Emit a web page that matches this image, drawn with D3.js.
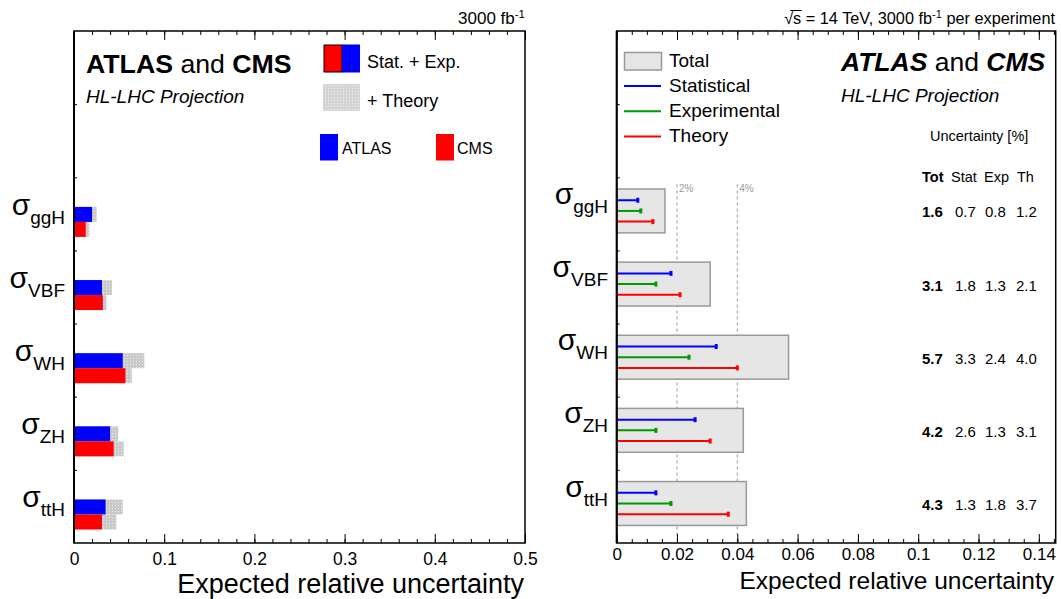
<!DOCTYPE html>
<html>
<head>
<meta charset="utf-8">
<script src="https://cdn.jsdelivr.net/npm/d3@7"></script>
<style>
  html, body { margin: 0; padding: 0; background: #fff; }
  svg { display: block; font-family: "Liberation Sans", Arial, sans-serif; }
</style>
</head>
<body>
<svg id="chart" width="1061" height="599"></svg>
<script>
// Production modes, listed top to bottom
const categories = ["ggH", "VBF", "WH", "ZH", "ttH"];

// Left panel: expected relative uncertainty per experiment
const atlasStatExp = [0.020, 0.031, 0.054, 0.040, 0.035];
const atlasTotal   = [0.025, 0.042, 0.078, 0.049, 0.054];
const cmsStatExp   = [0.013, 0.032, 0.057, 0.044, 0.031];
const cmsTotal     = [0.017, 0.036, 0.064, 0.055, 0.047];

// Right panel: combined uncertainty breakdown, in percent
const totUnc  = [1.6, 3.1, 5.7, 4.2, 4.3];
const statUnc = [0.7, 1.8, 3.3, 2.6, 1.3];
const expUnc  = [0.8, 1.3, 2.4, 1.3, 1.8];
const thUnc   = [1.2, 2.1, 4.0, 3.1, 3.7];

// Axis tick values
const leftTicks  = [0, 0.1, 0.2, 0.3, 0.4, 0.5];
const rightTicks = [0, 0.02, 0.04, 0.06, 0.08, 0.1, 0.12, 0.14];
const guideLines = [0.02, 0.04];

const svg = d3.select("#chart");
const FONT = '"Liberation Sans", Arial, sans-serif';
const n = categories.length;
// slot index from the bottom of the frame: ttH = 0 ... ggH = 4
const slot = i => n - 1 - i;

// Dotted grey fill used for the theory component
const defs = svg.append("defs");
const pat = defs.append("pattern").attr("id", "dots")
  .attr("width", 3).attr("height", 3).attr("patternUnits", "userSpaceOnUse");
pat.append("rect").attr("width", 3).attr("height", 3).attr("fill", "#c9c9c9");
pat.append("rect").attr("x", 1).attr("y", 1).attr("width", 1).attr("height", 1).attr("fill", "#ececec");

const fmt = d => d === 0 ? "0" : String(+d.toFixed(3));

function drawXAxes(g, x, y0, y1, major, minor, pad, fontSize) {
  g.append("g").attr("transform", `translate(0,${y0})`)
    .call(d3.axisBottom(x).tickValues(minor).tickSize(-4).tickFormat(""))
    .call(s => s.select(".domain").remove());
  g.append("g").attr("transform", `translate(0,${y0})`)
    .call(d3.axisBottom(x).tickValues(major).tickSize(-9).tickPadding(pad).tickFormat(fmt))
    .call(s => s.select(".domain").remove())
    .call(s => s.selectAll("text").attr("font-size", fontSize).attr("font-family", FONT).attr("fill", "#000"));
  g.append("g").attr("transform", `translate(0,${y1})`)
    .call(d3.axisTop(x).tickValues(minor).tickSize(-4).tickFormat(""))
    .call(s => s.select(".domain").remove());
  g.append("g").attr("transform", `translate(0,${y1})`)
    .call(d3.axisTop(x).tickValues(major).tickSize(-9).tickFormat(""))
    .call(s => s.select(".domain").remove());
}

function drawYTicks(g, y, x0) {
  g.append("g").attr("transform", `translate(${x0},0)`)
    .call(d3.axisLeft(y).tickValues([1, 2, 3, 4, 5, 6]).tickSize(-3).tickFormat(""))
    .call(s => s.select(".domain").remove());
}

function sigmaLabel(g, xRight, yCenter, sub) {
  const t = g.append("text").attr("x", xRight).attr("y", yCenter - 7)
    .attr("text-anchor", "end").attr("font-family", FONT);
  t.append("tspan").attr("font-size", 30).text("σ");
  t.append("tspan").attr("font-size", 19).attr("dy", 9).text(sub);
}

// ---------------- Left panel ----------------
const xL = d3.scaleLinear().domain([0, 0.5]).range([74, 525]);
const yL = d3.scaleLinear().domain([0, 7]).range([543, 31]);
const gL = svg.append("g");

const barH = yL(0) - yL(0.205);
const cL = i => yL(slot(i) + 0.39);

// theory (total) bars behind, stat+exp bars in front
gL.selectAll("rect.atot").data(atlasTotal).join("rect")
  .attr("x", xL(0)).attr("y", (d, i) => cL(i) - barH)
  .attr("width", d => xL(d) - xL(0)).attr("height", barH).attr("fill", "url(#dots)");
gL.selectAll("rect.ctot").data(cmsTotal).join("rect")
  .attr("x", xL(0)).attr("y", (d, i) => cL(i))
  .attr("width", d => xL(d) - xL(0)).attr("height", barH).attr("fill", "url(#dots)");
gL.selectAll("rect.atlas").data(atlasStatExp).join("rect")
  .attr("x", xL(0)).attr("y", (d, i) => cL(i) - barH)
  .attr("width", d => xL(d) - xL(0)).attr("height", barH).attr("fill", "#0000ff");
gL.selectAll("rect.cms").data(cmsStatExp).join("rect")
  .attr("x", xL(0)).attr("y", (d, i) => cL(i))
  .attr("width", d => xL(d) - xL(0)).attr("height", barH).attr("fill", "#ff0000");

drawXAxes(gL, xL, 543, 31, leftTicks, d3.range(0, 0.5001, 0.02), 10, 17.5);
drawYTicks(gL, yL, 74);
gL.append("rect").attr("x", 74).attr("y", 31).attr("width", 525 - 74).attr("height", 512)
  .attr("fill", "none").attr("stroke", "#000").attr("stroke-width", 1.5);
gL.append("line").attr("x1", 74).attr("x2", 74).attr("y1", 31).attr("y2", 543)
  .attr("stroke", "#000").attr("stroke-width", 2);

categories.forEach((c, i) => sigmaLabel(gL, 65, cL(i), c));

gL.append("text").attr("x", 524).attr("y", 593).attr("text-anchor", "end")
  .attr("font-size", 27).attr("font-family", FONT).text("Expected relative uncertainty");

const lumiL = gL.append("text").attr("x", 525).attr("y", 24).attr("text-anchor", "end")
  .attr("font-size", 17).attr("font-family", FONT);
lumiL.append("tspan").text("3000 fb");
lumiL.append("tspan").attr("font-size", 11.5).attr("dy", -6.5).text("-1");

const titleL = gL.append("text").attr("x", 86).attr("y", 73).attr("font-size", 26.7).attr("font-family", FONT);
titleL.append("tspan").attr("font-weight", "bold").text("ATLAS");
titleL.append("tspan").text(" and ");
titleL.append("tspan").attr("font-weight", "bold").text("CMS");
gL.append("text").attr("x", 86).attr("y", 103).attr("font-size", 19).attr("font-style", "italic")
  .attr("font-family", FONT).text("HL-LHC Projection");

// legend
gL.append("rect").attr("x", 324).attr("y", 45).attr("width", 18).attr("height", 27)
  .attr("fill", "#ff0000").attr("stroke", "#000").attr("stroke-width", 1);
gL.append("rect").attr("x", 342).attr("y", 44.5).attr("width", 18).attr("height", 28)
  .attr("fill", "#0000ff");
gL.append("text").attr("x", 367).attr("y", 68).attr("font-size", 18).attr("font-family", FONT).text("Stat. + Exp.");
gL.append("rect").attr("x", 323).attr("y", 84).attr("width", 37).attr("height", 27).attr("fill", "url(#dots)").attr("opacity", 0.8);
gL.append("text").attr("x", 367).attr("y", 107).attr("font-size", 18).attr("font-family", FONT).text("+ Theory");
gL.append("rect").attr("x", 320).attr("y", 134).attr("width", 18).attr("height", 26.5).attr("fill", "#0000ff");
gL.append("text").attr("x", 342).attr("y", 154).attr("font-size", 16).attr("font-family", FONT).text("ATLAS");
gL.append("rect").attr("x", 436).attr("y", 134).attr("width", 18).attr("height", 26.5).attr("fill", "#ff0000");
gL.append("text").attr("x", 457).attr("y", 154).attr("font-size", 16).attr("font-family", FONT).text("CMS");

// ---------------- Right panel ----------------
const xR = d3.scaleLinear().domain([0, 0.1456]).range([616.7, 1055.7]);
const yR = d3.scaleLinear().domain([0, 7]).range([543, 31]);
const gR = svg.append("g");
const cR = i => yR(slot(i) + 0.54);
const boxH = yR(0) - yR(0.6);
const lineOff = yR(0) - yR(0.146);

// dashed guides at 2% and 4%
gR.selectAll("line.guide").data(guideLines).join("line")
  .attr("x1", d => xR(d)).attr("x2", d => xR(d)).attr("y1", yR(4.9)).attr("y2", 543)
  .attr("stroke", "#a8a8a8").attr("stroke-width", 1.2).attr("stroke-dasharray", "3,3");
gR.selectAll("text.guide").data(guideLines).join("text")
  .attr("x", d => xR(d) + 2).attr("y", yR(4.9) + 7).attr("font-size", 10).attr("fill", "#9a9a9a")
  .attr("font-family", FONT).text(d => Math.round(d * 100) + "%");

// total boxes
gR.selectAll("rect.tot").data(totUnc).join("rect")
  .attr("x", xR(0)).attr("y", (d, i) => cR(i) - boxH / 2)
  .attr("width", d => xR(d / 100) - xR(0)).attr("height", boxH)
  .attr("fill", "#e6e6e6").attr("stroke", "#999").attr("stroke-width", 1.5);

// component lines with end markers
const comps = [
  { vals: statUnc, color: "#0000ff", off: -lineOff },
  { vals: expUnc,  color: "#009900", off: 0 },
  { vals: thUnc,   color: "#ff0000", off: lineOff }
];
comps.forEach(cmp => {
  const g = gR.append("g");
  g.selectAll("line").data(cmp.vals).join("line")
    .attr("x1", xR(0)).attr("x2", d => xR(d / 100))
    .attr("y1", (d, i) => cR(i) + cmp.off).attr("y2", (d, i) => cR(i) + cmp.off)
    .attr("stroke", cmp.color).attr("stroke-width", 2);
  g.selectAll("rect").data(cmp.vals).join("rect")
    .attr("x", d => xR(d / 100) - 1.5).attr("y", (d, i) => cR(i) + cmp.off - 2.5)
    .attr("width", 3).attr("height", 5).attr("fill", cmp.color);
});

drawXAxes(gR, xR, 543, 31, rightTicks, d3.range(0, 0.1456, 0.005), 5, 17);
drawYTicks(gR, yR, 616.7);
gR.append("rect").attr("x", 616.7).attr("y", 31).attr("width", 1055.7 - 616.7).attr("height", 512)
  .attr("fill", "none").attr("stroke", "#000").attr("stroke-width", 1.5);
gR.append("line").attr("x1", 616.7).attr("x2", 616.7).attr("y1", 31).attr("y2", 543)
  .attr("stroke", "#000").attr("stroke-width", 2);

categories.forEach((c, i) => sigmaLabel(gR, 608, cR(i), c));

gR.append("text").attr("x", 1054).attr("y", 589).attr("text-anchor", "end")
  .attr("font-size", 24.5).attr("font-family", FONT).text("Expected relative uncertainty");

const lumiR = gR.append("text").attr("x", 1055).attr("y", 24).attr("text-anchor", "end")
  .attr("font-size", 16.3).attr("font-family", FONT);
lumiR.append("tspan").text("√s = 14 TeV, 3000 fb");
lumiR.append("tspan").attr("font-size", 11).attr("dy", -6).text("-1");
lumiR.append("tspan").attr("dy", 6).text(" per experiment");
// bar over the "s" of the square root
{
  const node = lumiR.node();
  const s1 = node.getEndPositionOfChar(1);
  const r0 = node.getStartPositionOfChar(0);
  gR.append("line").attr("x1", r0.x + 6).attr("x2", s1.x + 0.5)
    .attr("y1", 24 - 13.5).attr("y2", 24 - 13.5).attr("stroke", "#000").attr("stroke-width", 1);
}

const titleR = gR.append("text").attr("x", 841).attr("y", 71).attr("font-size", 26.5)
  .attr("font-style", "italic").attr("font-family", FONT);
titleR.append("tspan").attr("font-weight", "bold").text("ATLAS");
titleR.append("tspan").attr("font-style", "normal").text(" and ");
titleR.append("tspan").attr("font-weight", "bold").text("CMS");
gR.append("text").attr("x", 841).attr("y", 102).attr("font-size", 19).attr("font-style", "italic")
  .attr("font-family", FONT).text("HL-LHC Projection");

// legend
const legR = gR.append("g").attr("font-family", FONT).attr("font-size", 19);
legR.append("rect").attr("x", 624.5).attr("y", 52.5).attr("width", 37).attr("height", 17.5)
  .attr("fill", "#e6e6e6").attr("stroke", "#999").attr("stroke-width", 1.5);
legR.append("text").attr("x", 669).attr("y", 66.5).text("Total");
[["Statistical", "#0000ff"], ["Experimental", "#009900"], ["Theory", "#ff0000"]].forEach(([lab, col], k) => {
  const yy = 86 + k * 25.2;
  legR.append("line").attr("x1", 624).attr("x2", 661).attr("y1", yy).attr("y2", yy)
    .attr("stroke", col).attr("stroke-width", 2);
  legR.append("text").attr("x", 669).attr("y", yy + 6).text(lab);
});

// uncertainty table
const tab = gR.append("g").attr("font-family", FONT).attr("font-size", 15);
tab.append("text").attr("x", 930).attr("y", 141).attr("font-size", 14.5).text("Uncertainty [%]");
const colX = [922, 955, 985, 1016];
const headers = ["Tot", "Stat", "Exp", "Th"];
const hdrX = [922, 951, 984, 1017];
headers.forEach((h, k) => tab.append("text").attr("x", hdrX[k]).attr("y", 182).attr("font-size", 14.5)
  .attr("font-weight", k === 0 ? "bold" : "normal").text(h));
[totUnc, statUnc, expUnc, thUnc].forEach((vals, k) => {
  tab.selectAll(null).data(vals).join("text")
    .attr("x", colX[k]).attr("y", (d, i) => cR(i) + 6.5)
    .attr("font-weight", k === 0 ? "bold" : "normal")
    .text(d => d.toFixed(1));
});
</script>
</body>
</html>
